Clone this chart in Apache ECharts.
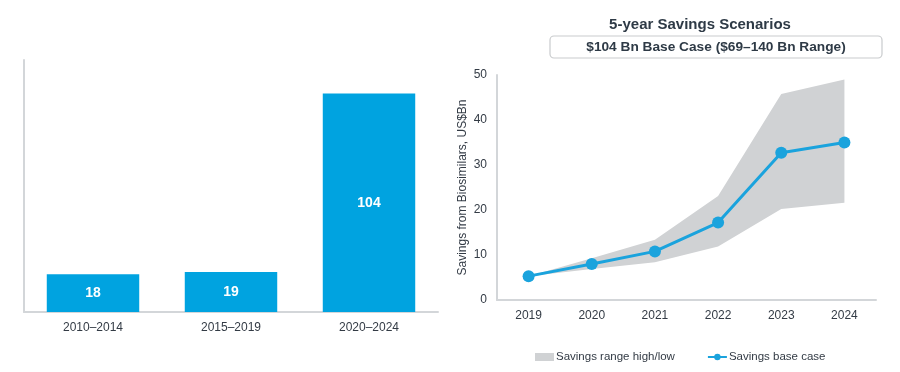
<!DOCTYPE html>
<html>
<head>
<meta charset="utf-8">
<script src="https://cdn.jsdelivr.net/npm/echarts@6/dist/echarts.min.js"></script>
<style>html,body{margin:0;padding:0;background:#fff}#c{width:900px;height:372px}</style>
</head>
<body>
<div id="c"></div>
<script>
// Left chart data
const periods = ['2010–2014', '2015–2019', '2020–2024'];
const periodSavings = [18, 19, 104];

// Right chart data
const years = ['2019', '2020', '2021', '2022', '2023', '2024'];
const baseCase = [5.3, 8.0, 10.8, 17.2, 32.7, 35.0];
const rangeLow = [5.3, 6.9, 8.4, 11.9, 20.2, 21.6];
const rangeHigh = [5.3, 9.3, 13.4, 23.1, 45.8, 49.0];
const yTicks = [0, 10, 20, 30, 40, 50];

const rangeSpan = rangeHigh.map((h, i) => +(h - rangeLow[i]).toFixed(2));

const FONT = '"Liberation Sans", Arial, sans-serif';
const TXT = '#333b45';
const AXIS = '#d3d6d9';
const BLUE = '#00a3e0';
const LINE = '#1aa3dd';
const GRAY = '#d0d2d4';

const chart = echarts.init(document.getElementById('c'));
chart.setOption({
  animation: false,
  textStyle: { fontFamily: FONT },
  grid: [
    { left: 24, top: 60, width: 414, height: 252 },
    { left: 497, top: 75, width: 379, height: 225 }
  ],
  xAxis: [
    {
      gridIndex: 0, type: 'category', data: periods,
      axisLine: { lineStyle: { color: AXIS, width: 2 } },
      axisTick: { show: false },
      axisLabel: { color: TXT, fontSize: 12, margin: 10, fontFamily: FONT }
    },
    {
      gridIndex: 1, type: 'category', data: years, boundaryGap: true,
      axisLine: { lineStyle: { color: AXIS, width: 2 } },
      axisTick: { show: false },
      axisLabel: { color: TXT, fontSize: 12, margin: 10, fontFamily: FONT }
    }
  ],
  yAxis: [
    {
      gridIndex: 0, type: 'value', min: 0, max: 120,
      axisLine: { show: true, lineStyle: { color: AXIS, width: 2 } },
      axisTick: { show: false }, axisLabel: { show: false }, splitLine: { show: false }
    },
    {
      gridIndex: 1, type: 'value', min: yTicks[0], max: yTicks[yTicks.length - 1], interval: 10,
      name: 'Savings from Biosimilars, US$Bn', nameLocation: 'middle', nameGap: 28,
      nameTextStyle: { color: TXT, fontSize: 12, fontFamily: FONT },
      axisLine: { show: true, lineStyle: { color: AXIS, width: 2 } },
      axisTick: { show: false },
      axisLabel: { color: TXT, fontSize: 12, margin: 10, fontFamily: FONT },
      splitLine: { show: false }
    }
  ],
  legend: {
    data: [
      { name: 'Savings range high/low', icon: 'rect' },
      { name: 'Savings base case' }
    ],
    left: 530, top: 346,
    itemWidth: 19, itemHeight: 8, itemGap: 32,
    textStyle: { color: TXT, fontSize: 11.5, fontFamily: FONT, padding: [0, 0, 0, -3] }
  },
  graphic: [
    {
      type: 'text',
      style: {
        text: '5-year Savings Scenarios', x: 700, y: 25,
        textAlign: 'center', textVerticalAlign: 'middle',
        font: 'bold 15px ' + FONT, fill: '#2e3a46'
      }
    },
    {
      type: 'rect',
      shape: { x: 550, y: 36, width: 332, height: 22, r: 4 },
      style: { fill: '#fff', stroke: '#c9cbcd', lineWidth: 1.2 }
    },
    {
      type: 'text',
      style: {
        text: '$104 Bn Base Case ($69–140 Bn Range)', x: 716, y: 47,
        textAlign: 'center', textVerticalAlign: 'middle',
        font: 'bold 13.7px ' + FONT, fill: '#2e3a46'
      }
    }
  ],
  series: [
    {
      type: 'bar', xAxisIndex: 0, yAxisIndex: 0, data: periodSavings,
      barCategoryGap: '33%',
      itemStyle: { color: BLUE },
      label: { show: true, position: 'inside', color: '#fff', fontWeight: 'bold', fontSize: 14, fontFamily: FONT }
    },
    {
      name: 'rangeLow', type: 'line', xAxisIndex: 1, yAxisIndex: 1, data: rangeLow,
      stack: 'range', symbol: 'none', lineStyle: { width: 0 },
      areaStyle: { color: 'rgba(0,0,0,0)' }, silent: true
    },
    {
      name: 'Savings range high/low', type: 'line', xAxisIndex: 1, yAxisIndex: 1, data: rangeSpan,
      stack: 'range', symbol: 'none', lineStyle: { width: 0 },
      itemStyle: { color: GRAY },
      areaStyle: { color: GRAY, opacity: 1 }
    },
    {
      name: 'Savings base case', type: 'line', xAxisIndex: 1, yAxisIndex: 1, data: baseCase,
      symbol: 'circle', symbolSize: 12,
      lineStyle: { color: LINE, width: 3 },
      itemStyle: { color: LINE }
    }
  ]
});
</script>
</body>
</html>
